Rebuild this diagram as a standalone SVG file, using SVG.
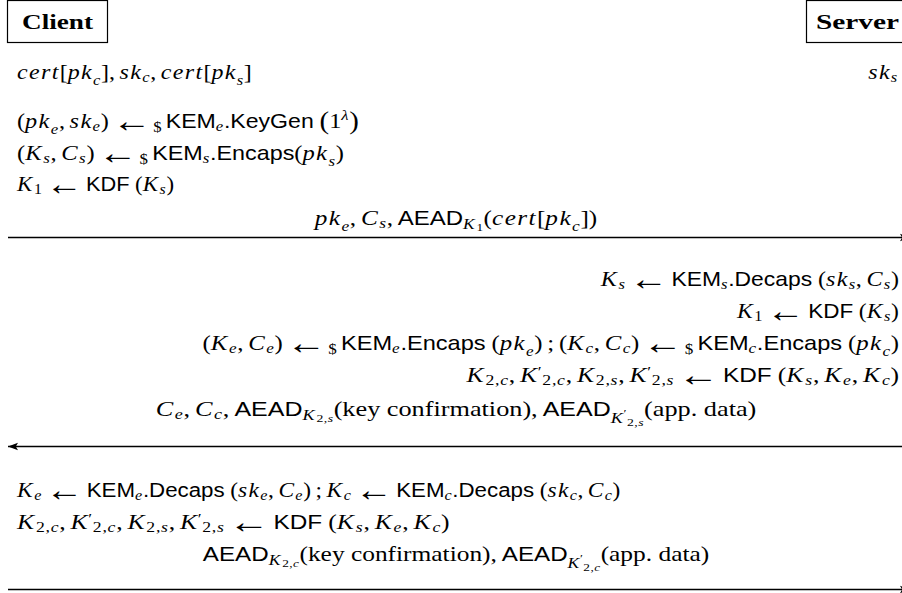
<svg xmlns="http://www.w3.org/2000/svg" width="902" height="593" viewBox="0 0 902 593">
<style>
.t{font-family:"Liberation Serif",serif;font-size:21px;fill:#000}
.m{font-style:italic;letter-spacing:1.2px}
.r{font-style:normal;letter-spacing:0}
.s{font-family:"Liberation Sans",sans-serif;font-size:20px;font-style:normal;letter-spacing:0}
.sb{font-size:14.5px;letter-spacing:0.6px}
.ss{font-size:11px;letter-spacing:0.4px}
.k{letter-spacing:1.5px}
.ks{letter-spacing:1.5px}
.ar{font-family:"Liberation Sans",sans-serif;font-size:34px;font-style:normal;letter-spacing:0}
.bp{font-size:25px}
.b{font-family:"Liberation Serif",serif;font-weight:bold;font-size:22px}
.box{fill:#fff;stroke:#000;stroke-width:1.2}
.msg{stroke:#000;stroke-width:1.3;fill:none}
</style>
<defs>
<marker id="ah" markerUnits="userSpaceOnUse" markerWidth="12" markerHeight="10" refX="10" refY="5" orient="auto"><path d="M0,1.3 L10,5 L0,8.7 L2.2,5 z" fill="#000"/></marker>
</defs>
<g id="client"><rect class="box" x="7.5" y="0.5" width="100" height="42"/><text class="b" x="22" y="29" textLength="71" lengthAdjust="spacingAndGlyphs">Client</text></g>
<g id="server"><rect class="box" x="806.5" y="0.5" width="102" height="42"/><text class="b" x="816" y="29" textLength="83" lengthAdjust="spacingAndGlyphs">Server</text></g>
<g id="client-state">
<text class="t" transform="translate(17,79) scale(1.14,1)"><tspan class="m">cert</tspan><tspan class="r">[</tspan><tspan class="m">pk</tspan><tspan class="m sb" dy="6">c</tspan><tspan class="r" dy="-6">],</tspan><tspan class="m" dx="4">sk</tspan><tspan class="m sb" dy="3">c</tspan><tspan class="r" dy="-3">,</tspan><tspan class="m" dx="4">cert</tspan><tspan class="r">[</tspan><tspan class="m">pk</tspan><tspan class="m sb" dy="6">s</tspan><tspan class="r" dy="-6">]</tspan></text>
</g>
<g id="server-state">
<text class="t" transform="translate(898,79) scale(1.14,1)" text-anchor="end"><tspan class="m">sk</tspan><tspan class="m sb" dy="3">s</tspan></text>
</g>
<g id="client-step1">
<text class="t" transform="translate(17,128) scale(1.155,1)"><tspan class="r">(</tspan><tspan class="m">pk</tspan><tspan class="m sb" dy="6">e</tspan><tspan class="r" dy="-6">,</tspan><tspan class="m" dx="4">sk</tspan><tspan class="m sb" dy="3">e</tspan><tspan class="r" dy="-3">)</tspan><tspan class="ar" dx="3" dy="4">←</tspan><tspan class="r sb" dx="1.5">$</tspan><tspan class="s" dx="3" dy="-4">KEM</tspan><tspan class="m sb" dy="3">e</tspan><tspan class="s" dy="-3">.KeyGen</tspan><tspan class="r bp" dx="5" dy="1">(</tspan><tspan class="r" dy="-1">1</tspan><tspan class="m sb" dy="-8">λ</tspan><tspan class="r bp" dy="9">)</tspan></text>
<text class="t" transform="translate(17,160) scale(1.167,1)"><tspan class="r">(</tspan><tspan class="m k">K</tspan><tspan class="m sb" dy="3">s</tspan><tspan class="r" dy="-3">,</tspan><tspan class="m" dx="4">C</tspan><tspan class="m sb" dy="3">s</tspan><tspan class="r" dy="-3">)</tspan><tspan class="ar" dx="3" dy="4">←</tspan><tspan class="r sb" dx="1.5">$</tspan><tspan class="s" dx="3" dy="-4">KEM</tspan><tspan class="m sb" dy="3">s</tspan><tspan class="s" dy="-3">.Encaps</tspan><tspan class="r">(</tspan><tspan class="m">pk</tspan><tspan class="m sb" dy="6">s</tspan><tspan class="r" dy="-6">)</tspan></text>
<text class="t" transform="translate(17,191) scale(1.09,1)"><tspan class="m k">K</tspan><tspan class="r sb" dy="3">1</tspan><tspan class="ar" dx="3" dy="1">←</tspan><tspan class="s" dx="3" dy="-4">KDF</tspan><tspan class="r" dx="5">(</tspan><tspan class="m k">K</tspan><tspan class="m sb" dy="3">s</tspan><tspan class="r" dy="-3">)</tspan></text>
</g>
<g id="server-step">
<text class="t" transform="translate(899,286) scale(1.145,1)" text-anchor="end"><tspan class="m k">K</tspan><tspan class="m sb" dy="3">s</tspan><tspan class="ar" dx="3" dy="1">←</tspan><tspan class="s" dx="3" dy="-4">KEM</tspan><tspan class="m sb" dy="3">s</tspan><tspan class="s" dy="-3">.Decaps</tspan><tspan class="r" dx="5">(</tspan><tspan class="m">sk</tspan><tspan class="m sb" dy="3">s</tspan><tspan class="r" dy="-3">,</tspan><tspan class="m" dx="4">C</tspan><tspan class="m sb" dy="3">s</tspan><tspan class="r" dy="-3">)</tspan></text>
<text class="t" transform="translate(899,318) scale(1.125,1)" text-anchor="end"><tspan class="m k">K</tspan><tspan class="r sb" dy="3">1</tspan><tspan class="ar" dx="3" dy="1">←</tspan><tspan class="s" dx="3" dy="-4">KDF</tspan><tspan class="r" dx="5">(</tspan><tspan class="m k">K</tspan><tspan class="m sb" dy="3">s</tspan><tspan class="r" dy="-3">)</tspan></text>
<text class="t" transform="translate(899,350) scale(1.18,1)" text-anchor="end"><tspan class="r">(</tspan><tspan class="m k">K</tspan><tspan class="m sb" dy="3">e</tspan><tspan class="r" dy="-3">,</tspan><tspan class="m" dx="4">C</tspan><tspan class="m sb" dy="3">e</tspan><tspan class="r" dy="-3">)</tspan><tspan class="ar" dx="3" dy="4">←</tspan><tspan class="r sb" dx="1.5">$</tspan><tspan class="s" dx="3" dy="-4">KEM</tspan><tspan class="m sb" dy="3">e</tspan><tspan class="s" dy="-3">.Encaps</tspan><tspan class="r" dx="5">(</tspan><tspan class="m">pk</tspan><tspan class="m sb" dy="6">e</tspan><tspan class="r" dy="-6">)</tspan><tspan class="r" dx="4">;</tspan><tspan class="r" dx="4">(</tspan><tspan class="m k">K</tspan><tspan class="m sb" dy="3">c</tspan><tspan class="r" dy="-3">,</tspan><tspan class="m" dx="4">C</tspan><tspan class="m sb" dy="3">c</tspan><tspan class="r" dy="-3">)</tspan><tspan class="ar" dx="3" dy="4">←</tspan><tspan class="r sb" dx="1.5">$</tspan><tspan class="s" dx="3" dy="-4">KEM</tspan><tspan class="m sb" dy="3">c</tspan><tspan class="s" dy="-3">.Encaps</tspan><tspan class="r" dx="5">(</tspan><tspan class="m">pk</tspan><tspan class="m sb" dy="6">c</tspan><tspan class="r" dy="-6">)</tspan></text>
<text class="t" transform="translate(899,382) scale(1.22,1)" text-anchor="end"><tspan class="m k">K</tspan><tspan class="r sb" dy="3">2,</tspan><tspan class="m sb">c</tspan><tspan class="r" dy="-3">,</tspan><tspan class="m k" dx="4">K</tspan><tspan class="r sb" dx="-1" dy="-5">′</tspan><tspan class="r sb" dy="8">2,</tspan><tspan class="m sb">c</tspan><tspan class="r" dy="-3">,</tspan><tspan class="m k" dx="4">K</tspan><tspan class="r sb" dy="3">2,</tspan><tspan class="m sb">s</tspan><tspan class="r" dy="-3">,</tspan><tspan class="m k" dx="4">K</tspan><tspan class="r sb" dx="-1" dy="-5">′</tspan><tspan class="r sb" dy="8">2,</tspan><tspan class="m sb">s</tspan><tspan class="ar" dx="3" dy="1">←</tspan><tspan class="s" dx="3" dy="-4">KDF</tspan><tspan class="r" dx="5">(</tspan><tspan class="m k">K</tspan><tspan class="m sb" dy="3">s</tspan><tspan class="r" dy="-3">,</tspan><tspan class="m k" dx="4">K</tspan><tspan class="m sb" dy="3">e</tspan><tspan class="r" dy="-3">,</tspan><tspan class="m k" dx="4">K</tspan><tspan class="m sb" dy="3">c</tspan><tspan class="r" dy="-3">)</tspan></text>
</g>
<g id="client-step2">
<text class="t" transform="translate(17,497) scale(1.115,1)"><tspan class="m k">K</tspan><tspan class="m sb" dy="3">e</tspan><tspan class="ar" dx="3" dy="1">←</tspan><tspan class="s" dx="3" dy="-4">KEM</tspan><tspan class="m sb" dy="3">e</tspan><tspan class="s" dy="-3">.Decaps</tspan><tspan class="r" dx="5">(</tspan><tspan class="m">sk</tspan><tspan class="m sb" dy="3">e</tspan><tspan class="r" dy="-3">,</tspan><tspan class="m" dx="4">C</tspan><tspan class="m sb" dy="3">e</tspan><tspan class="r" dy="-3">)</tspan><tspan class="r" dx="4">;</tspan><tspan class="m k" dx="4">K</tspan><tspan class="m sb" dy="3">c</tspan><tspan class="ar" dx="3" dy="1">←</tspan><tspan class="s" dx="3" dy="-4">KEM</tspan><tspan class="m sb" dy="3">c</tspan><tspan class="s" dy="-3">.Decaps</tspan><tspan class="r" dx="5">(</tspan><tspan class="m">sk</tspan><tspan class="m sb" dy="3">c</tspan><tspan class="r" dy="-3">,</tspan><tspan class="m" dx="4">C</tspan><tspan class="m sb" dy="3">c</tspan><tspan class="r" dy="-3">)</tspan></text>
<text class="t" transform="translate(17,529) scale(1.22,1)"><tspan class="m k">K</tspan><tspan class="r sb" dy="3">2,</tspan><tspan class="m sb">c</tspan><tspan class="r" dy="-3">,</tspan><tspan class="m k" dx="4">K</tspan><tspan class="r sb" dx="-1" dy="-5">′</tspan><tspan class="r sb" dy="8">2,</tspan><tspan class="m sb">c</tspan><tspan class="r" dy="-3">,</tspan><tspan class="m k" dx="4">K</tspan><tspan class="r sb" dy="3">2,</tspan><tspan class="m sb">s</tspan><tspan class="r" dy="-3">,</tspan><tspan class="m k" dx="4">K</tspan><tspan class="r sb" dx="-1" dy="-5">′</tspan><tspan class="r sb" dy="8">2,</tspan><tspan class="m sb">s</tspan><tspan class="ar" dx="3" dy="1">←</tspan><tspan class="s" dx="3" dy="-4">KDF</tspan><tspan class="r" dx="5">(</tspan><tspan class="m k">K</tspan><tspan class="m sb" dy="3">s</tspan><tspan class="r" dy="-3">,</tspan><tspan class="m k" dx="4">K</tspan><tspan class="m sb" dy="3">e</tspan><tspan class="r" dy="-3">,</tspan><tspan class="m k" dx="4">K</tspan><tspan class="m sb" dy="3">c</tspan><tspan class="r" dy="-3">)</tspan></text>
</g>
<g id="connectors">
<line class="msg" x1="8" y1="237.5" x2="910" y2="237.5" marker-end="url(#ah)"/>
<text class="t" transform="translate(456,225) scale(1.2,1)" text-anchor="middle"><tspan class="m">pk</tspan><tspan class="m sb" dy="6">e</tspan><tspan class="r" dy="-6">,</tspan><tspan class="m" dx="4">C</tspan><tspan class="m sb" dy="3">s</tspan><tspan class="r" dy="-3">,</tspan><tspan class="s" dx="4">AEAD</tspan><tspan class="m sb ks" dy="4">K</tspan><tspan class="r ss" dy="2">1</tspan><tspan class="r" dy="-6">(</tspan><tspan class="m">cert</tspan><tspan class="r">[</tspan><tspan class="m">pk</tspan><tspan class="m sb" dy="6">c</tspan><tspan class="r" dy="-6">])</tspan></text>
<line class="msg" x1="904" y1="446.5" x2="8" y2="446.5" marker-end="url(#ah)"/>
<text class="t" transform="translate(456,416) scale(1.25,1)" text-anchor="middle"><tspan class="m">C</tspan><tspan class="m sb" dy="3">e</tspan><tspan class="r" dy="-3">,</tspan><tspan class="m" dx="4">C</tspan><tspan class="m sb" dy="3">c</tspan><tspan class="r" dy="-3">,</tspan><tspan class="s" dx="4">AEAD</tspan><tspan class="m sb ks" dy="4">K</tspan><tspan class="r ss" dy="2">2,</tspan><tspan class="m ss">s</tspan><tspan class="r" dy="-6">(key confirmation),</tspan><tspan class="s" dx="4">AEAD</tspan><tspan class="m sb ks" dy="7">K</tspan><tspan class="r ss" dx="-1" dy="-6">′</tspan><tspan class="r ss" dy="9">2,</tspan><tspan class="m ss">s</tspan><tspan class="r" dy="-10">(app. data)</tspan></text>
<line class="msg" x1="8" y1="589.5" x2="910" y2="589.5" marker-end="url(#ah)"/>
<text class="t" transform="translate(456,561) scale(1.21,1)" text-anchor="middle"><tspan class="s">AEAD</tspan><tspan class="m sb ks" dy="4">K</tspan><tspan class="r ss" dy="2">2,</tspan><tspan class="m ss">c</tspan><tspan class="r" dy="-6">(key confirmation),</tspan><tspan class="s" dx="4">AEAD</tspan><tspan class="m sb ks" dy="7">K</tspan><tspan class="r ss" dx="-1" dy="-6">′</tspan><tspan class="r ss" dy="9">2,</tspan><tspan class="m ss">c</tspan><tspan class="r" dy="-10">(app. data)</tspan></text>
</g>
</svg>
